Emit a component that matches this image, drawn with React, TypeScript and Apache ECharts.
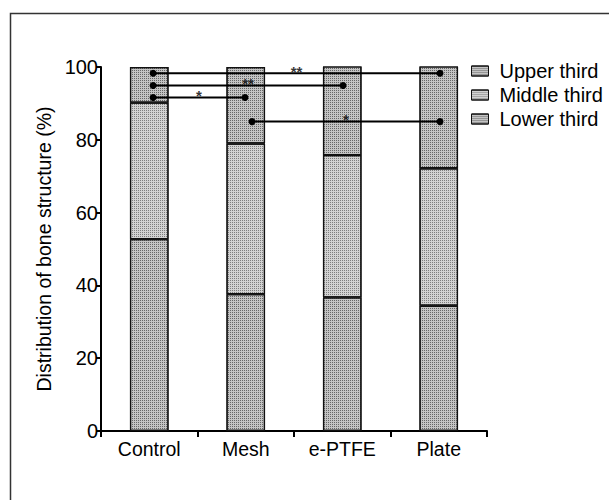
import React, { useEffect, useRef } from "react";
import * as echarts from "echarts";

const categories = ["Control", "Mesh", "e-PTFE", "Plate"];
const lowerThird = [52.7, 37.6, 36.7, 34.4];
const middleThird = [37.5, 41.4, 39.1, 37.8];
const upperThird = [9.8, 21.0, 24.5, 28.3];
const yTicks = [0, 20, 40, 60, 80, 100];

// significance brackets (x in category-axis units 0..4, y in %)
const sigStartX = [0.54, 0.54, 0.54, 1.565];
const sigEndX = [3.513, 2.508, 1.492, 3.513];
const sigY = [98.3, 94.9, 91.6, 85.0];
const sigLabel = ["**", "**", "*", "*"];

const FONT = "'Liberation Sans', Arial, Helvetica, sans-serif";

export default function App() {
  const ref = useRef<HTMLDivElement>(null);
  useEffect(() => {
    if (!ref.current) return;
    const chart = echarts.init(ref.current, null, { renderer: "svg" });
    const decal = (c: string) => ({
      symbol: "rect",
      symbolSize: 1,
      dashArrayX: [1, 1],
      dashArrayY: [1, 1],
      color: c,
    });
    const barSeries = [
      { name: "Lower third", data: lowerThird, color: "#c4c4c4", dot: "rgba(40,40,40,0.6)" },
      { name: "Middle third", data: middleThird, color: "#d2d2d2", dot: "rgba(40,40,40,0.5)" },
      { name: "Upper third", data: upperThird, color: "#c4c4c4", dot: "rgba(40,40,40,0.6)" },
    ].map((s) => ({
      name: s.name,
      type: "bar",
      stack: "total",
      barWidth: "40%",
      data: s.data,
      itemStyle: { color: s.color, borderColor: "#111", borderWidth: 1.2, decal: decal(s.dot) },
      emphasis: { disabled: true },
    }));
    const sigSeries = sigY.map((y, i) => ({
      type: "line",
      xAxisIndex: 1,
      symbol: "circle",
      symbolSize: 7,
      lineStyle: { color: "#000", width: 2 },
      itemStyle: { color: "#000" },
      z: 5,
      silent: true,
      data: [
        [sigStartX[i], y],
        [sigEndX[i], y],
      ],
    }));
    const sigLabels = {
      type: "scatter",
      xAxisIndex: 1,
      symbol: "circle",
      symbolSize: 1,
      itemStyle: { color: "rgba(0,0,0,0)" },
      z: 6,
      silent: true,
      data: sigY.map((y, i) => ({
        value: [(sigStartX[i] + sigEndX[i]) / 2, y],
        label: {
          show: true,
          formatter: sigLabel[i],
          position: "inside",
          offset: [0, -2],
          fontSize: 15,
          fontWeight: "bold",
          color: "#000",
          fontFamily: FONT,
        },
      })),
    };
    chart.setOption({
      animation: false,
      backgroundColor: "#fff",
      graphic: [
        {
          type: "rect",
          shape: { x: 10.5, y: 13.5, width: 640, height: 520 },
          style: { fill: "none", stroke: "#333", lineWidth: 1.5 },
          silent: true,
        },
      ],
      legend: {
        orient: "vertical",
        left: 471,
        top: 61,
        padding: 0,
        itemWidth: 17,
        itemHeight: 10,
        itemGap: 4,
        icon: "rect",
        data: ["Upper third", "Middle third", "Lower third"],
        textStyle: { fontSize: 20, fontFamily: FONT, color: "#000", lineHeight: 20, padding: [0, 0, 0, 6] },
        itemStyle: { borderColor: "#111", borderWidth: 1 },
      },
      grid: { left: 101, right: 122, top: 67, bottom: 69, containLabel: false },
      xAxis: [
        {
          type: "category",
          data: categories,
          axisLine: { lineStyle: { color: "#000", width: 2 } },
          axisTick: { show: true, length: 6, lineStyle: { color: "#000", width: 2 } },
          axisLabel: { fontSize: 19.5, fontFamily: FONT, color: "#000", margin: 8 },
        },
        { type: "value", min: 0, max: 4, show: false },
      ],
      yAxis: {
        type: "value",
        min: 0,
        max: 100,
        interval: 20,
        name: "Distribution of bone structure (%)",
        nameLocation: "middle",
        nameGap: 45,
        nameTextStyle: { fontSize: 19.5, fontFamily: FONT, color: "#000" },
        axisLine: { show: true, lineStyle: { color: "#000", width: 2 } },
        axisTick: { show: true, length: 5, lineStyle: { color: "#000", width: 2 } },
        axisLabel: {
          fontSize: 20,
          fontFamily: FONT,
          color: "#000",
          margin: 3,
          formatter: (v: number) => (yTicks.includes(v) ? String(v) : ""),
        },
        splitLine: { show: false },
      },
      series: [...barSeries, ...sigSeries, sigLabels],
    });
    return () => chart.dispose();
  }, []);
  return (
    <div
      ref={ref}
      style={{ position: "fixed", left: 0, top: 0, width: 609, height: 500 }}
    />
  );
}
